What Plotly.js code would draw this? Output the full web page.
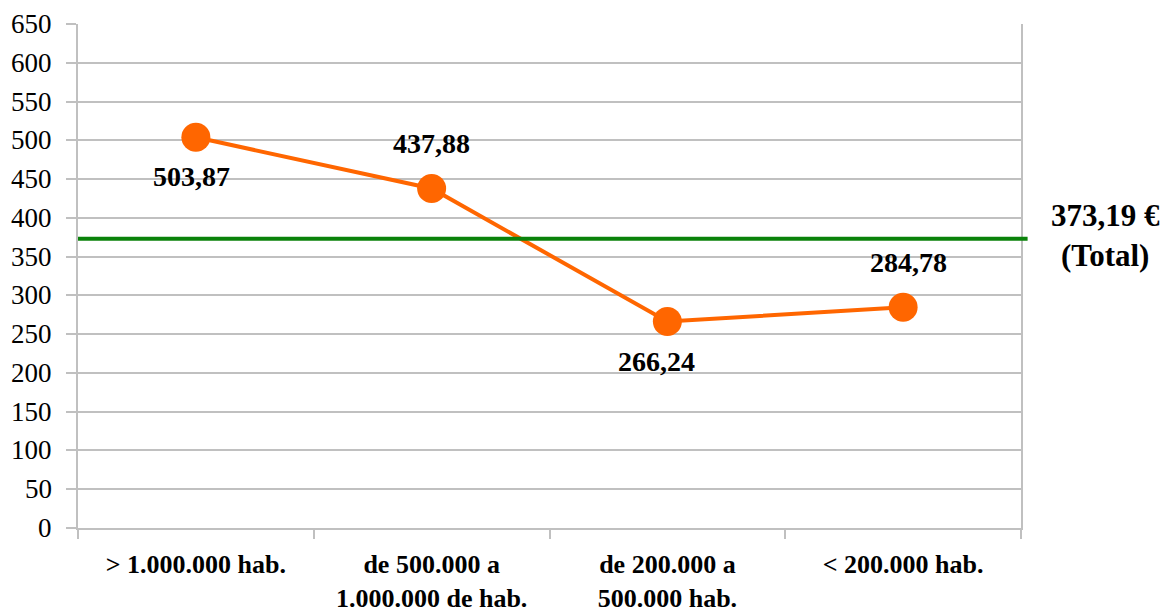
<!DOCTYPE html>
<html>
<head>
<meta charset="utf-8">
<script src="https://cdn.plot.ly/plotly-3.0.1.min.js"></script>
<style>html,body{margin:0;padding:0;background:#fff;}#chart{width:1164px;height:612px;}</style>
</head>
<body>
<div id="chart"></div>
<script>
// Data
const categories = ["> 1.000.000 hab.", "de 500.000 a<br>1.000.000 de hab.", "de 200.000 a<br>500.000 hab.", "< 200.000 hab."];
const values = [503.87, 437.88, 266.24, 284.78];
const valueLabels = ["503,87", "437,88", "266,24", "284,78"];
const totalValue = 373.19;
const totalLabel = "373,19 €<br>(Total)";
const yTickValues = [0, 50, 100, 150, 200, 250, 300, 350, 400, 450, 500, 550, 600, 650];

// Label styling (offsets in pixels)
const labelYShift = [-39, 45, -40, 45];
const labelXShift = [-4, 0, -11, 5];

const serif = "Liberation Serif";
const gridColor = "#c0c0c0";

const trace = {
  x: categories,
  y: values,
  type: "scatter",
  mode: "lines+markers",
  line: {color: "#ff6600", width: 4},
  marker: {color: "#ff6600", size: 29},
  hoverinfo: "skip",
  cliponaxis: false
};

const annotations = values.map((v, i) => ({
  x: categories[i],
  y: v,
  xref: "x",
  yref: "y",
  text: "<b>" + valueLabels[i] + "</b>",
  showarrow: false,
  xshift: labelXShift[i],
  yshift: labelYShift[i],
  font: {family: serif, size: 28, color: "#000"},
  xanchor: "center",
  yanchor: "middle"
}));

// y-axis tick labels drawn as text at the axis tick positions
yTickValues.forEach(v => annotations.push({
  xref: "paper",
  yref: "y",
  x: 0,
  xshift: -24,
  y: v,
  yshift: 0,
  text: String(v),
  showarrow: false,
  xanchor: "right",
  yanchor: "middle",
  font: {family: serif, size: 27, color: "#000"}
}));

annotations.push({
  xref: "paper",
  yref: "y",
  x: 1.0,
  xshift: 84,
  y: totalValue,
  yshift: 3,
  text: "<b>" + totalLabel + "</b>",
  showarrow: false,
  xanchor: "center",
  yanchor: "middle",
  align: "center",
  font: {family: serif, size: 31, color: "#000"}
});

const layout = {
  width: 1164,
  height: 612,
  margin: {l: 78, r: 143, t: 24, b: 84},
  paper_bgcolor: "#fff",
  plot_bgcolor: "#fff",
  showlegend: false,
  font: {family: serif, color: "#000", size: 26},
  xaxis: {
    type: "category",
    range: [-0.5, 3.5],
    tickson: "boundaries",
    ticks: "outside",
    ticklen: 9,
    tickwidth: 2,
    tickcolor: gridColor,
    showgrid: false,
    showline: true,
    linecolor: gridColor,
    linewidth: 2,
    mirror: false,
    tickfont: {family: serif, size: 26, color: "#000"},
    ticklabelstandoff: 12,
    fixedrange: true,
    tickvals: categories,
    ticktext: categories.map(c => "<b>" + c + "</b>")
  },
  yaxis: {
    range: [0, 650],
    tickmode: "array",
    tickvals: yTickValues,
    showticklabels: false,
    ticks: "outside",
    ticklen: 10,
    tickwidth: 2,
    tickcolor: gridColor,
    showgrid: true,
    gridcolor: gridColor,
    gridwidth: 2,
    showline: true,
    linecolor: gridColor,
    linewidth: 2,
    mirror: true,
    zeroline: false,
    fixedrange: true
  },
  shapes: [{
    type: "line",
    xref: "paper",
    yref: "y",
    x0: 0,
    x1: 1.007,
    y0: totalValue,
    y1: totalValue,
    line: {color: "#0a820a", width: 4}
  }],
  annotations: annotations
};

Plotly.newPlot("chart", [trace], layout, {displayModeBar: false, staticPlot: true});
</script>
</body>
</html>
